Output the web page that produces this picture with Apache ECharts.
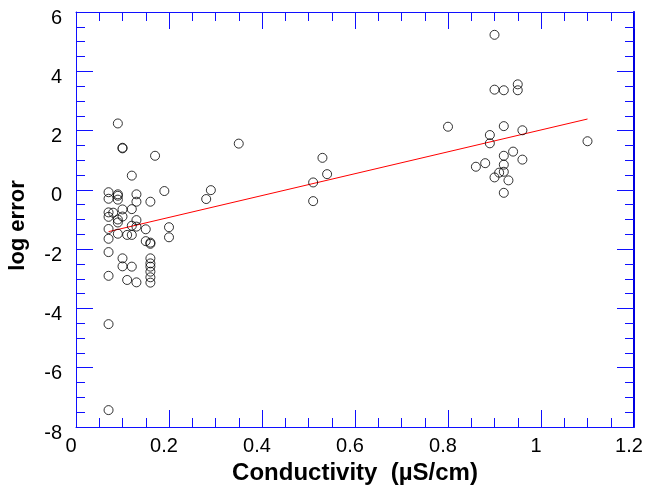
<!DOCTYPE html>
<html>
<head>
<meta charset="utf-8">
<script src="https://cdn.jsdelivr.net/npm/echarts@6/dist/echarts.min.js"></script>
<style>
  html, body { margin: 0; padding: 0; background: #fff; }
  #chart { width: 645px; height: 485px; }
</style>
</head>
<body>
<div id="chart"></div>
<script>
// Measured log error against conductivity (µS/cm)
const conductivity = [
  0.07, 0.07, 0.07, 0.07, 0.07, 0.07, 0.07, 0.07, 0.07, 0.07,
  0.08,
  0.09, 0.09, 0.09, 0.09, 0.09, 0.09, 0.09,
  0.10, 0.10, 0.10, 0.10, 0.10, 0.10,
  0.11, 0.11,
  0.12, 0.12, 0.12, 0.12, 0.12,
  0.13, 0.13, 0.13, 0.13, 0.13,
  0.15, 0.15,
  0.16, 0.16, 0.16, 0.16, 0.16, 0.16, 0.16, 0.16, 0.16,
  0.17, 0.19, 0.20, 0.20,
  0.28, 0.29, 0.35,
  0.51, 0.51, 0.53, 0.54,
  0.80,
  0.86, 0.88, 0.89, 0.89, 0.90, 0.90, 0.90, 0.91,
  0.92, 0.92, 0.92, 0.92, 0.92, 0.92, 0.93,
  0.94, 0.95, 0.95, 0.96, 0.96, 1.10
];
const logError = [
  -7.43, -4.53, -2.90, -2.10, -1.65, -1.32, -0.91, -0.76, -0.30, -0.08,
  -0.77,
  -0.15, -0.20, -0.33, -1.00, -1.10, -1.48, 2.24,
  1.40, 1.42, -0.66, -0.90, -2.31, -2.58,
  -1.52, -3.04,
  0.48, -0.65, -1.21, -1.52, -2.59,
  -0.15, -0.40, -1.02, -1.24, -3.12,
  -1.33, -1.73,
  -0.40, -1.78, -1.82, -2.31, -2.48, -2.59, -2.76, -2.95, -3.13,
  1.15, -0.04, -1.26, -1.60,
  -0.31, -0.01, 1.56,
  0.25, -0.38, 1.08, 0.53,
  2.13,
  0.78, 0.90, 1.85, 1.57, 5.23, 3.38, 0.42, 0.58,
  3.36, 2.15, 1.15, 0.85, 0.61, -0.10, 0.32,
  1.29, 3.56, 3.36, 2.01, 1.02, 1.64
];

// Least-squares trend line end points
const fitX = [0.07, 1.10];
const fitY = [-1.41, 2.39];

// Axis ranges and tick steps
const xRange = [0, 1.2], xStep = 0.2;
const yRange = [-8, 6], yStep = 2;

const points = conductivity.map((c, i) => [c, logError[i]]);
const fitLine = fitX.map((c, i) => [c, fitY[i]]);

const axisBlue = '#1010ff';
const labelFont = { fontFamily: 'Liberation Sans', fontSize: 20, color: '#000' };
const titleFont = { fontFamily: 'Liberation Sans', fontWeight: 'bold', color: '#000' };

function frameAxis(extra) {
  return Object.assign({
    type: 'value',
    axisLine: { show: true, onZero: false, lineStyle: { color: axisBlue, width: 1 } },
    axisTick: { show: true, inside: true, length: 17, lineStyle: { color: axisBlue, width: 1 } },
    minorTick: { show: true, splitNumber: 4, length: 9, lineStyle: { color: axisBlue, width: 1 } },
    splitLine: { show: false },
    minorSplitLine: { show: false }
  }, extra);
}

const chart = echarts.init(document.getElementById('chart'), null, { renderer: 'canvas' });
chart.setOption({
  animation: false,
  backgroundColor: '#fff',
  grid: {
    left: 76, top: 12, width: 558, height: 415,
    containLabel: false,
    outerBoundsMode: 'none'
  },
  xAxis: [
    frameAxis({
      min: xRange[0], max: xRange[1], interval: xStep, position: 'bottom',
      axisLabel: Object.assign({ margin: 9, padding: [0, 10, 0, 0] }, labelFont),
      name: 'Conductivity  (µS/cm)',
      nameLocation: 'middle',
      nameGap: 27,
      nameTextStyle: Object.assign({ fontSize: 24 }, titleFont)
    }),
    frameAxis({
      min: xRange[0], max: xRange[1], interval: xStep, position: 'top',
      axisLabel: { show: false }
    })
  ],
  yAxis: [
    frameAxis({
      min: yRange[0], max: yRange[1], interval: yStep, position: 'left',
      axisLabel: Object.assign({ margin: 14, verticalAlign: 'top', lineHeight: 12 }, labelFont),
      name: 'log error',
      nameLocation: 'middle',
      nameGap: 47,
      nameRotate: 90,
      nameTextStyle: Object.assign({ fontSize: 22, padding: [0, 12, 0, 0] }, titleFont)
    }),
    frameAxis({
      min: yRange[0], max: yRange[1], interval: yStep, position: 'right',
      axisLine: { show: true, onZero: false, lineStyle: { color: '#0000e0', width: 2 } },
      axisLabel: { show: false }
    })
  ],
  series: [
    {
      type: 'line',
      data: fitLine,
      symbol: 'none',
      lineStyle: { color: '#ff0000', width: 1 },
      z: 2
    },
    {
      type: 'scatter',
      data: points,
      symbol: 'circle',
      symbolSize: 9,
      itemStyle: { color: 'rgba(0,0,0,0)', borderColor: '#000', borderWidth: 1 },
      z: 3
    }
  ]
});
</script>
</body>
</html>
